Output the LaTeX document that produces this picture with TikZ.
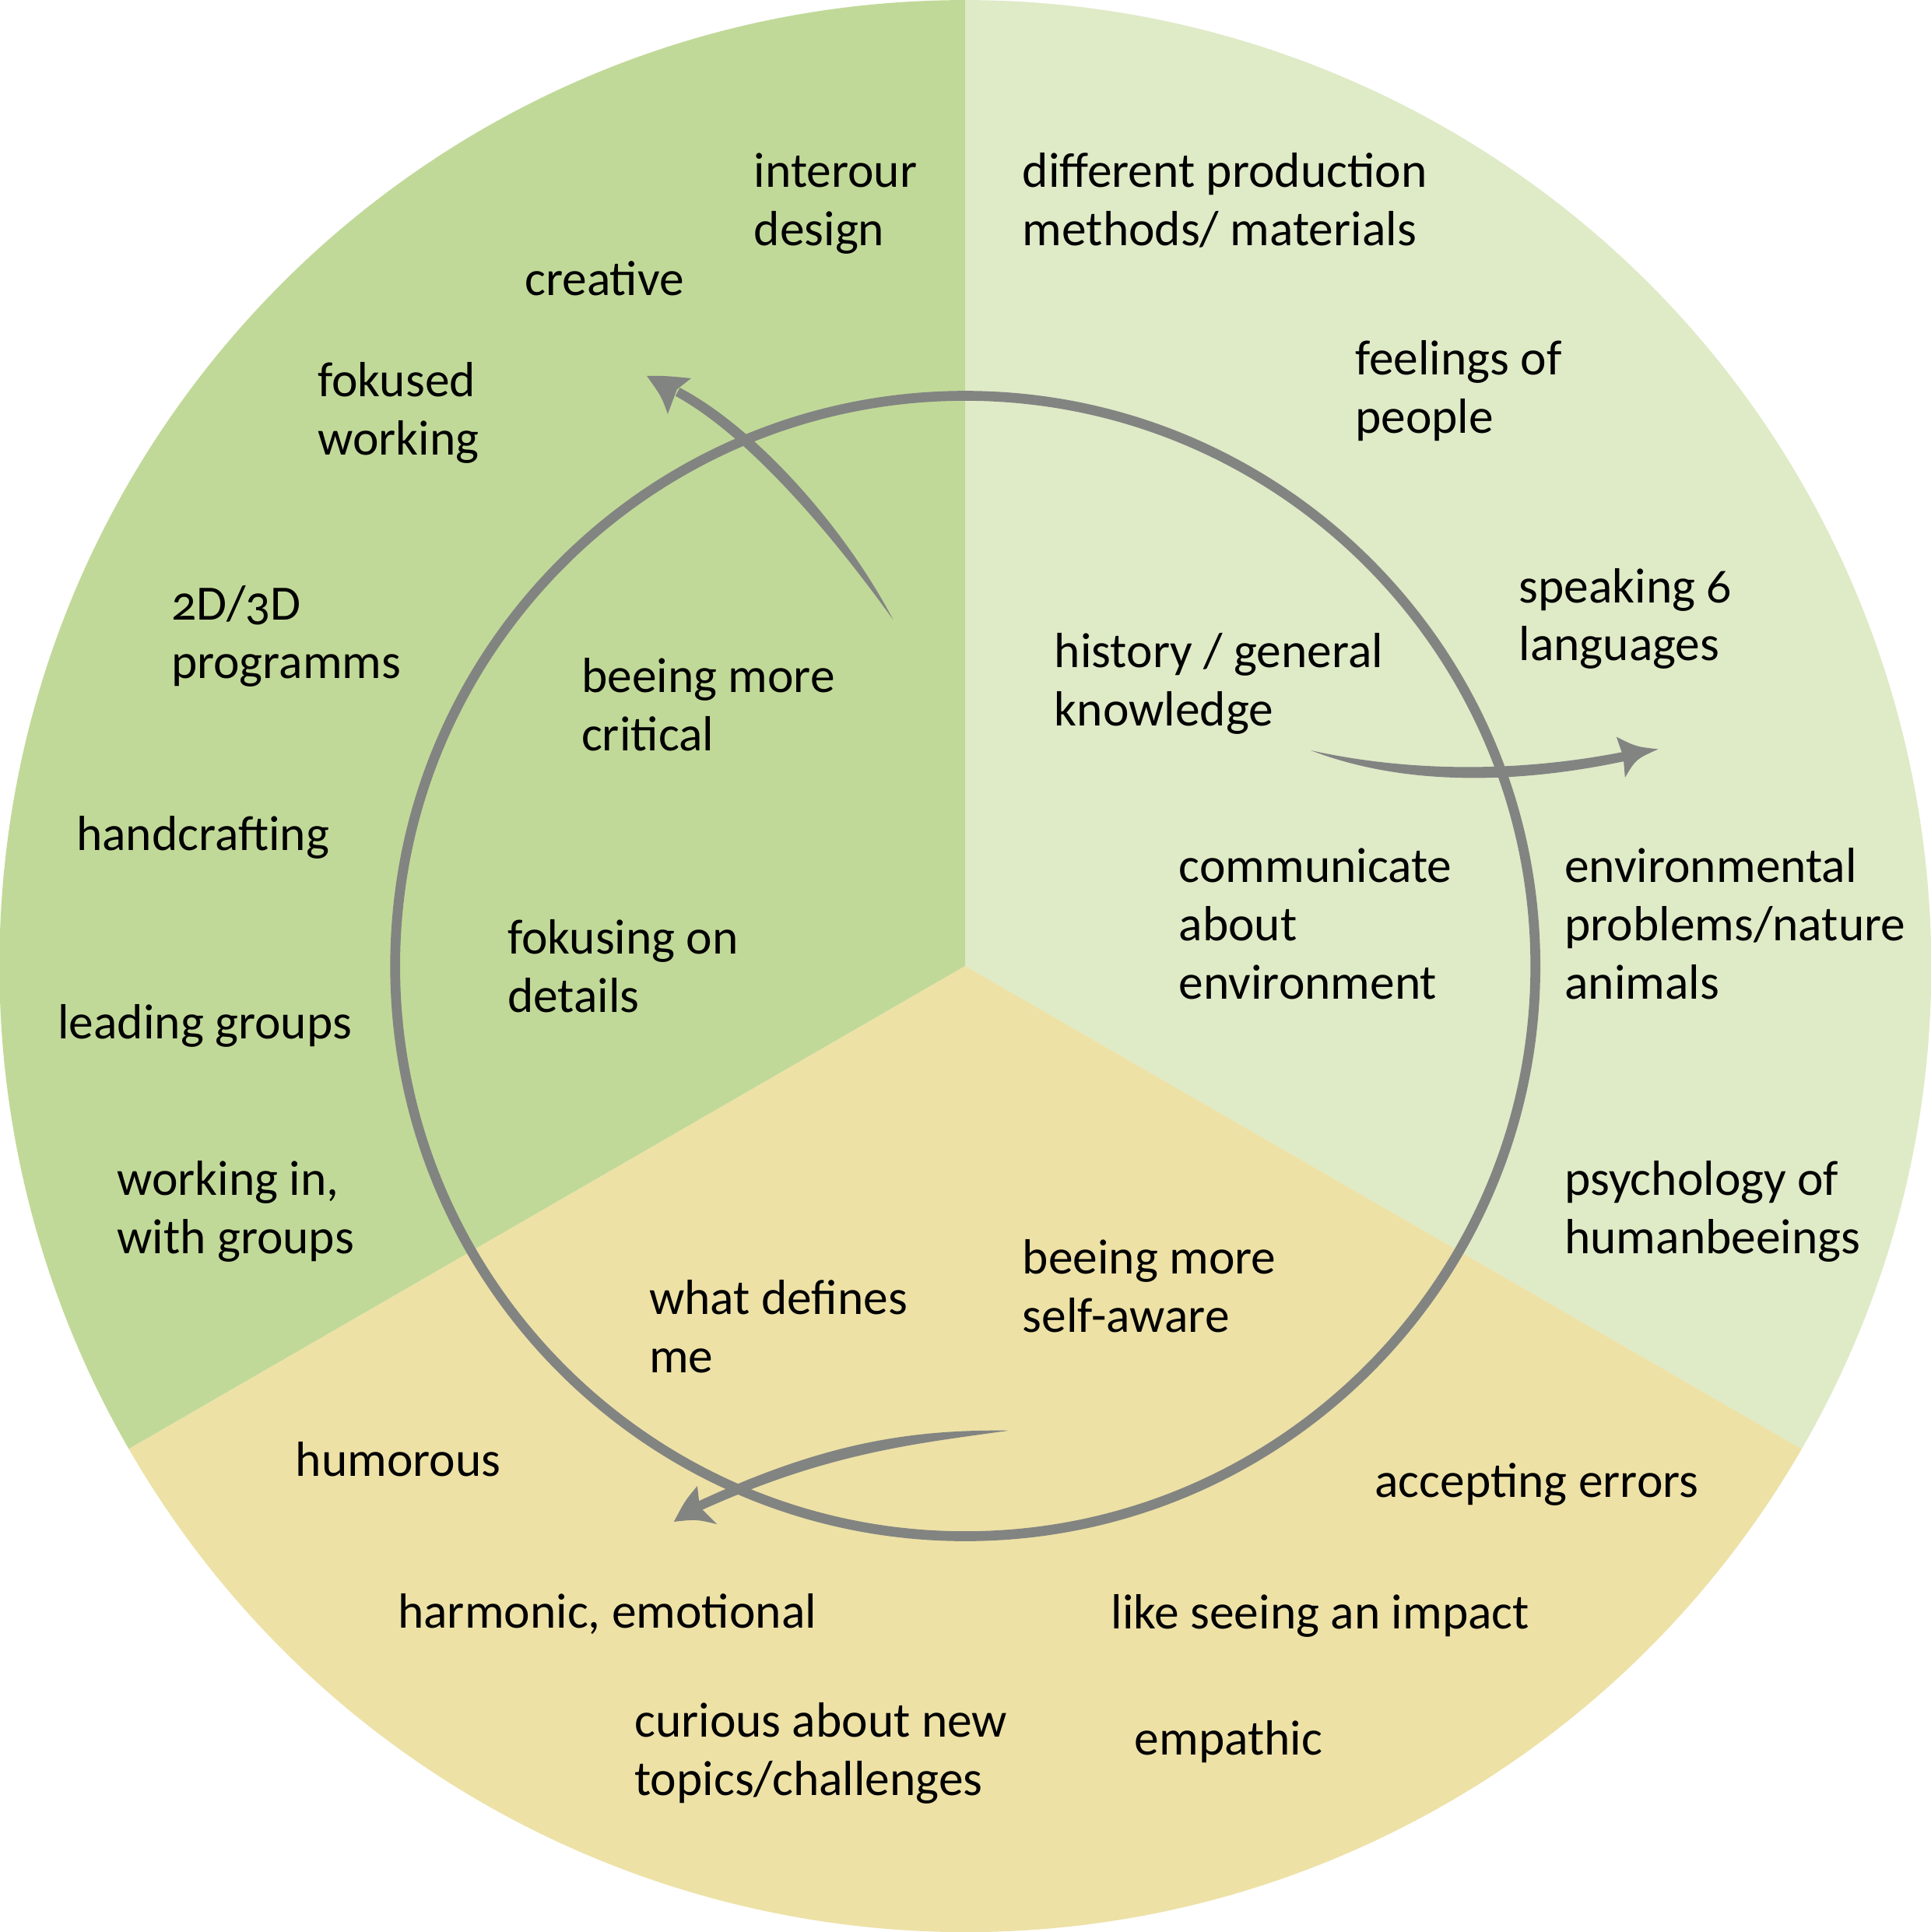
\documentclass[tikz,border=0pt]{standalone}
\usepackage{fontspec}
\setmainfont{Carlito}[Numbers=OldStyle]
\definecolor{sectA}{RGB}{193,217,152}
\definecolor{sectB}{RGB}{223,234,199}
\definecolor{sectC}{RGB}{237,225,166}
\definecolor{ringgray}{RGB}{130,132,130}
\begin{document}
\begin{tikzpicture}[x=0.01cm,y=-0.01cm,
  lbl/.style={anchor=base west, inner sep=0pt, outer sep=0pt, align=left, font=\fontsize{11.4}{13.45}\selectfont},
  ring/.style={draw=ringgray, line width=0.08cm},
  arrowfill/.style={fill=ringgray}]
\useasboundingbox (0,0) rectangle (1567,1568);
\coordinate (C) at (783.5,784);
% sectors
\fill[sectA] (C) -- ++(90:7.835cm) arc[start angle=90, end angle=210, radius=7.835cm] -- cycle;
\fill[sectB] (C) -- ++(-30:7.835cm) arc[start angle=-30, end angle=90, radius=7.835cm] -- cycle;
\fill[sectC] (C) -- ++(210:7.835cm) arc[start angle=210, end angle=330, radius=7.835cm] -- cycle;
% inner ring
\draw[ring] (C) circle[radius=4.625cm];
% arrow 1 (upper left)
\coordinate (a1tail) at (725,503);
\coordinate (a1tip) at (525,305);
\fill[arrowfill] (a1tail) .. controls (684.5,426.04) and (612.34,346.17) .. (551.79,314.66) -- (548.21,321.34) .. controls (607.66,353.83) and (675.5,433.96) .. (a1tail) -- cycle;
\fill[arrowfill] (a1tip) .. controls (540,305) .. (561,307) -- (549.5,316) -- (542,336) .. controls (537,322) .. (a1tip) -- cycle;
% arrow 2 (right)
\coordinate (a2tail) at (1064,609);
\coordinate (a2tip) at (1346,608);
\fill[arrowfill] (a2tail) .. controls (1140.82,626.06) and (1229.55,627.52) .. (1317.24,610.28) -- (1318.76,617.72) .. controls (1230.45,636.48) and (1139.18,637.94) .. (a2tail) -- cycle;
\fill[arrowfill] (a2tip) .. controls (1328,606) .. (1312,598) -- (1317.6,614) -- (1319,631) .. controls (1328,616) .. (a2tip) -- cycle;
% arrow 3 (bottom)
\coordinate (a3tail) at (819,1161);
\coordinate (a3tip) at (547,1235);
\fill[arrowfill] (a3tail) .. controls (740.54,1171.94) and (671.44,1179.28) .. (567.63,1226.42) -- (564.37,1219.58) .. controls (668.56,1170.72) and (739.46,1160.06) .. (a3tail) -- cycle;
\fill[arrowfill] (a3tip) .. controls (556,1218) .. (566,1206) -- (568,1223) -- (582,1237) .. controls (565,1233) .. (a3tip) -- cycle;
% labels upper left (positions = baseline of last line)
\node[lbl] (interour) at (612,199.3) {interour\\design};
\node[lbl] (creative) at (426,240) {creative};
\node[lbl] (fokused) at (258,369.3) {fokused\\working};
\node[lbl] (prog) at (139,550.5) {2D/3D\\programms};
\node[lbl] (hand) at (62,690) {handcrafting};
\node[lbl] (leading) at (47,843) {leading groups};
\node[lbl] (workin) at (95,1017.3) {working in,\\with groups};
\node[lbl] (critical) at (472,609.3) {beeing more\\critical};
\node[lbl] (details) at (412,821.3) {fokusing on\\details};
% labels right
\node[lbl] (prod) at (830,199.3) {different production\\methods/ materials};
\node[lbl] (feel) at (1100,351.3) {feelings of\\people};
\node[lbl] (speak) at (1233,536.3) {speaking 6\\languages};
\node[lbl] (hist) at (856,589.3) {history / general\\knowledge};
\node[lbl] (comm) at (957,810.6) {communicate\\about\\environment};
\node[lbl] (envprob) at (1270,810.6) {environmental\\problems/nature\\animals};
\node[lbl] (psych) at (1270,1017.3) {psychology of\\humanbeeings};
% labels bottom
\node[lbl] (selfaware) at (830,1081.3) {beeing more\\self-aware};
\node[lbl] (defines) at (527,1114.3) {what defines\\me};
\node[lbl] (humor) at (240,1198) {humorous};
\node[lbl] (errors) at (1116,1215) {accepting errors};
\node[lbl] (harm) at (323,1321) {harmonic, emotional};
\node[lbl] (impact) at (902,1322) {like seeing an impact};
\node[lbl] (curious) at (515,1457.3) {curious about new\\topics/challenges};
\node[lbl] (empath) at (921,1424) {empathic};
\end{tikzpicture}
\end{document}
